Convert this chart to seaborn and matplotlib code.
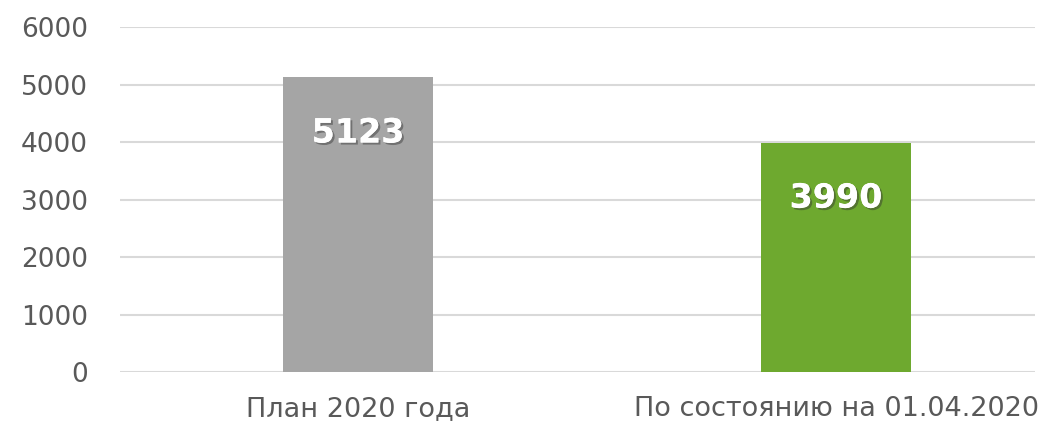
import pandas as pd
import numpy as np
import matplotlib

matplotlib.use("Agg")
import matplotlib.pyplot as plt
import matplotlib.patheffects as pe
import seaborn as sns

categories = ["План 2020 года", "По состоянию на 01.04.2020"]
values = [5123, 3990]
bar_colors = ["#A5A5A5", "#6EA92F"]
y_ticks = [0, 1000, 2000, 3000, 4000, 5000, 6000]

df = pd.DataFrame({"category": categories, "value": values})

sns.set_style("white")
plt.rcParams["font.family"] = ["DejaVu Sans"]

fig = plt.figure(figsize=(10.59, 4.28), dpi=100)
ax = fig.add_axes([0.1133, 0.1308, 0.864, 0.8061])

sns.barplot(
    data=df,
    x="category",
    y="value",
    hue="category",
    palette=bar_colors,
    saturation=1,
    width=0.314,
    linewidth=0,
    legend=False,
    ax=ax,
    zorder=3,
)

# Data labels inside the bars, white bold with a soft shadow
for i, v in enumerate(values):
    ax.annotate(
        str(v),
        xy=(i, v),
        xytext=(0, -40),
        textcoords="offset points",
        ha="center",
        va="center",
        fontsize=24,
        fontweight="bold",
        color="white",
        zorder=5,
        path_effects=[
            pe.withSimplePatchShadow(offset=(1.5, -1.5), shadow_rgbFace="#333333", alpha=0.45),
            pe.Normal(),
        ],
    )

ax.set_ylim(0, 6000)
ax.set_xlim(-0.498, 1.416)
ax.set_yticks(y_ticks)
ax.set_yticklabels([str(t) for t in y_ticks])
ax.yaxis.grid(True, color="#D9D9D9", linewidth=1.5, zorder=0)
ax.set_axisbelow(True)
ax.set_xlabel("")
ax.set_ylabel("")
sns.despine(ax=ax, left=True, bottom=True)
ax.tick_params(axis="y", length=0, pad=23, labelsize=19, labelcolor="#595959")
ax.tick_params(axis="x", length=0, pad=17, labelsize=19.5, labelcolor="#595959")

fig.savefig("out.png", dpi=100)
